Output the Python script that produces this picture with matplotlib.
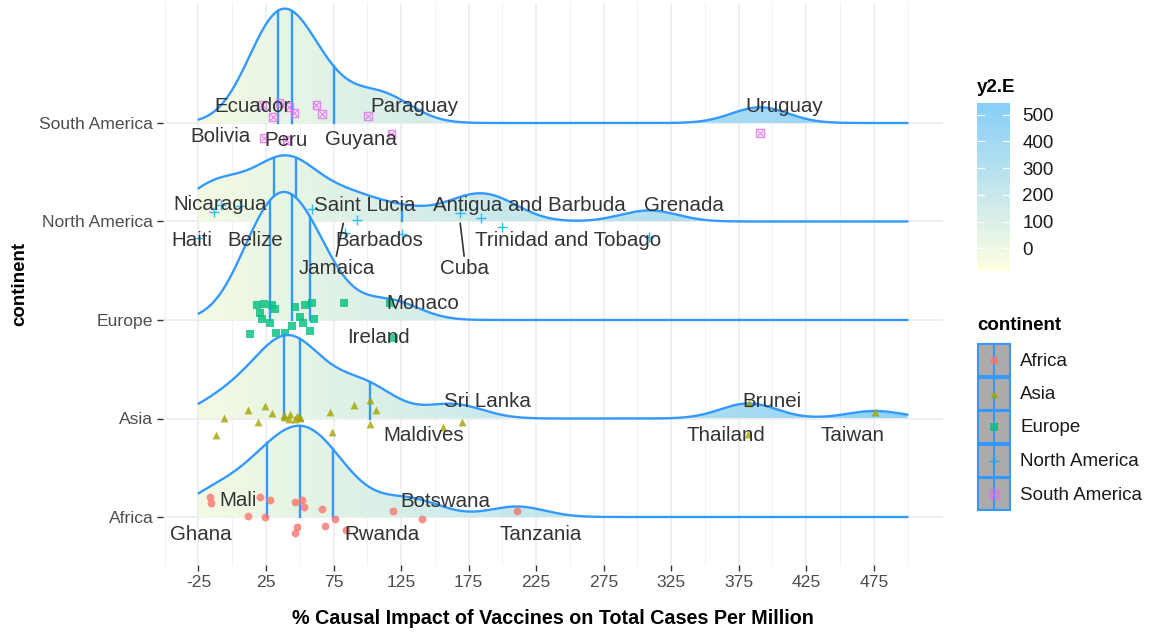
import numpy as np
import matplotlib
matplotlib.use("Agg")
import matplotlib.pyplot as plt
from matplotlib.colors import LinearSegmentedColormap, Normalize
from matplotlib.patches import Polygon, Rectangle

plt.rcParams['font.family'] = ['Liberation Sans', 'DejaVu Sans']
plt.rcParams['axes.unicode_minus'] = False

# % causal impact per country, grouped by continent, with vertical jitter offsets
continents = ['Africa', 'Asia', 'Europe', 'North America', 'South America']

africa_vals = [-16.3, -15.9, 20.3, 28.3, 11.5, 24.6, 46.7, 51.7, 52.9, 66.5, 76.3, 48.0,
               46.7, 68.4, 84.5, 119.0, 140.5, 210.7]
africa_jit = [0.20, 0.14, 0.20, 0.17, 0.01, 0.00, 0.155, 0.17, 0.10, 0.08, -0.02, -0.10,
              -0.16, -0.09, -0.13, 0.06, -0.02, 0.06]

asia_vals = [-6.3, 11.5, 24.6, 29.5, 38.6, 41.8, 46.7, 50.4, 18.9, -11.7, 72.6, 73.9, 89.9,
             101.7, 106.7, 102.2, 156.4, 170.0, 382.0, 382.5, 475.7, 38.6, 43.0, 48.0, 50.4]
asia_jit = [0.01, 0.09, 0.13, 0.06, 0.04, 0.00, -0.01, 0.02, -0.04, -0.17, 0.07, -0.14, 0.14,
            0.19, 0.09, -0.06, -0.09, -0.04, -0.16, 0.16, 0.07, 0.02, 0.05, 0.03, 0.01]

europe_vals = [18.4, 23.3, 29.5, 32.0, 20.3, 22.1, 27.7, 46.7, 54.1, 59.1, 49.9, 52.4, 60.3,
               57.8, 44.3, 39.3, 32.7, 12.9, 82.5, 119.5, 117.0]
europe_jit = [0.15, 0.16, 0.15, 0.11, 0.07, 0.01, -0.03, 0.13, 0.15, 0.17, 0.03, -0.03, 0.01,
              -0.11, -0.06, -0.13, -0.13, -0.14, 0.17, -0.18, 0.17]

na_vals = [-13.7, -24.8, 59.1, 92.4, 83.7, 125.7, 168.8, 184.3, 199.6, 308.6,
           -8.0, 6.0, 30.7, 32.5, 38.0, 43.5, 47.3]
na_jit = [0.10, -0.17, 0.13, 0.02, -0.12, -0.13, 0.09, 0.04, -0.06, -0.16,
          0.17, 0.16, 0.12, -0.02, 0.15, -0.10, 0.06]

sa_vals = [22.1, 30.3, 34.9, 46.0, 62.3, 66.5, 100.5, 23.3, 40.1, 117.8, 390.7, 42.0]
sa_jit = [0.18, 0.06, 0.20, 0.10, 0.18, 0.09, 0.07, -0.15, -0.17, -0.11, -0.10, 0.16]

values = {'Africa': africa_vals, 'Asia': asia_vals, 'Europe': europe_vals,
          'North America': na_vals, 'South America': sa_vals}
jitter = {'Africa': africa_jit, 'Asia': asia_jit, 'Europe': europe_jit,
          'North America': na_jit, 'South America': sa_jit}

# repelled country labels: (name, continent, x, y offset)
labels = [
    ('Ecuador', 'South America', 14.9, 0.17), ('Paraguay', 'South America', 134.8, 0.17),
    ('Bolivia', 'South America', -8.7, -0.14), ('Peru', 'South America', 40.1, -0.18),
    ('Guyana', 'South America', 95.6, -0.17), ('Uruguay', 'South America', 408.4, 0.17),
    ('Nicaragua', 'North America', -8.7, 0.17), ('Saint Lucia', 'North America', 97.8, 0.16),
    ('Antigua and Barbuda', 'North America', 219.8, 0.16), ('Grenada', 'North America', 334.5, 0.16),
    ('Haiti', 'North America', -30.2, -0.19), ('Belize', 'North America', 17.2, -0.19),
    ('Barbados', 'North America', 108.9, -0.19), ('Trinidad and Tobago', 'North America', 248.7, -0.19),
    ('Jamaica', 'North America', 77.8, -0.48), ('Cuba', 'North America', 171.7, -0.48),
    ('Monaco', 'Europe', 141.4, 0.17), ('Ireland', 'Europe', 108.1, -0.18),
    ('Sri Lanka', 'Asia', 188.8, 0.17), ('Maldives', 'Asia', 141.4, -0.17),
    ('Brunei', 'Asia', 399.6, 0.17), ('Thailand', 'Asia', 365.5, -0.17),
    ('Taiwan', 'Asia', 459.5, -0.17),
    ('Mali', 'Africa', 4.6, 0.17), ('Botswana', 'Africa', 157.7, 0.16),
    ('Ghana', 'Africa', -23.5, -0.18), ('Rwanda', 'Africa', 111.1, -0.18),
    ('Tanzania', 'Africa', 228.7, -0.18),
]
# label -> point connector segments (x_text, dy_text, x_point, dy_point)
segments = [('North America', 77.1, -0.35, 82.2, -0.02),
            ('North America', 171.7, -0.35, 168.8, -0.02)]

point_colors = {'Africa': '#F8766D', 'Asia': '#A3A500', 'Europe': '#00BF7D',
                'North America': '#00B0F6', 'South America': '#E76BF3'}
point_markers = {'Africa': 'o', 'Asia': '^', 'Europe': 's', 'North America': '+',
                 'South America': 's'}

line_col = '#3399FF'
cmap = LinearSegmentedColormap.from_list('y2E', ['#FFFFE0', '#87CEFA'])
fill_lo, fill_hi = -85, 543
norm = Normalize(fill_lo, fill_hi)
ridge_scale = 1.3
ypos = {c: i + 1 for i, c in enumerate(continents)}


def nrd0(x):
    x = np.asarray(x, float)
    iqr = np.subtract(*np.percentile(x, [75, 25]))
    return 0.9 * min(x.std(ddof=1), iqr / 1.34) * len(x) ** -0.2


def draw_point(axis, x, y, c, z):
    col = point_colors[c]
    if c == 'South America':
        axis.scatter(x, y, marker='s', s=30, facecolors='none', edgecolors=col,
                     linewidths=1.0, alpha=0.8, zorder=z)
        axis.scatter(x, y, marker='x', s=18, color=col, linewidths=0.9, alpha=0.8, zorder=z)
    elif c == 'North America':
        axis.scatter(x, y, marker='+', s=60, color=col, linewidths=1.0, alpha=0.8, zorder=z)
    else:
        axis.scatter(x, y, marker=point_markers[c], s=32, color=col, linewidths=0,
                     alpha=0.8, zorder=z)


bw = np.mean([nrd0(values[c]) for c in continents])
grid = np.linspace(-25, 500, 512)
dens = {}
for c in continents:
    v = np.asarray(values[c])
    d = np.exp(-0.5 * ((grid[:, None] - v[None, :]) / bw) ** 2).sum(axis=1)
    dens[c] = d / (len(v) * bw * np.sqrt(2 * np.pi))
dmax = max(d.max() for d in dens.values())

fig = plt.figure(figsize=(11.54, 6.35), dpi=100)
ax = fig.add_axes([163 / 1154, 1 - 565 / 635, 780 / 1154, 562 / 635])

for k, c in enumerate(continents[::-1]):
    z = 2 + k
    base = ypos[c]
    top = base + dens[c] / dmax * ridge_scale
    verts = np.column_stack([np.r_[grid, grid[::-1]],
                             np.r_[top, np.full_like(grid, base)]])
    poly = Polygon(verts, closed=True, facecolor='none', edgecolor='none')
    ax.add_patch(poly)
    im = ax.imshow(grid[None, :], extent=[grid[0], grid[-1], base, top.max()],
                   origin='lower', aspect='auto', cmap=cmap, norm=norm, zorder=z)
    im.set_clip_path(poly)
    ax.plot(grid, top, color=line_col, lw=1.7, zorder=z + 0.2, solid_capstyle='round')
    for q in np.percentile(values[c], [25, 50, 75]):
        ax.plot([q, q], [base, np.interp(q, grid, top)], color=line_col, lw=1.7,
                zorder=z + 0.1)
    draw_point(ax, values[c], base + np.asarray(jitter[c]), c, z + 0.3)

for name, c, x, dy in labels:
    ax.text(x, ypos[c] + dy, name, ha='center', va='center', fontsize=14.8,
            color='#333333', zorder=10)
for c, x0, dy0, x1, dy1 in segments:
    ax.plot([x0, x1], [ypos[c] + dy0, ypos[c] + dy1], color='#333333', lw=1.2, zorder=10)

ax.set_xlim(-51.25, 526.25)
ax.set_ylim(1 - 48 / 98.5, 5 + 120 / 98.5)
ax.set_xticks(np.arange(-25, 476, 50))
ax.set_xticks(np.arange(-50, 501, 50), minor=True)
ax.set_yticks([ypos[c] for c in continents])
ax.set_yticklabels(continents)
ax.grid(which='major', color='#EBEBEB', lw=1.1)
ax.grid(which='minor', axis='x', color='#F0F0F0', lw=0.6)
ax.set_axisbelow(True)
for s in ax.spines.values():
    s.set_visible(False)
ax.tick_params(which='major', length=4, width=1, color='#333333', labelcolor='#4D4D4D',
               labelsize=12.6, pad=3)
ax.tick_params(which='minor', length=0)
ax.set_xlabel('% Causal Impact of Vaccines on Total Cases Per Million',
              fontsize=14.2, fontweight='bold', labelpad=14)
ax.set_ylabel('continent', fontsize=13.5, fontweight='bold', labelpad=8)

# fill colourbar
cax = fig.add_axes([977 / 1154, 1 - 271 / 635, 33 / 1154, 168 / 635])
cax.imshow(np.linspace(fill_lo, fill_hi, 300)[:, None], extent=[0, 1, fill_lo, fill_hi],
           origin='lower', aspect='auto', cmap=cmap, norm=norm)
cbar_ticks = [0, 100, 200, 300, 400, 500]
for t in cbar_ticks:
    cax.plot([0, 0.2], [t, t], color='white', lw=0.8)
    cax.plot([0.8, 1], [t, t], color='white', lw=0.8)
cax.set_xlim(0, 1)
cax.set_ylim(fill_lo, fill_hi)
cax.set_xticks([])
cax.set_yticks(cbar_ticks)
cax.yaxis.tick_right()
cax.tick_params(length=0, pad=9, labelsize=13.5, labelcolor='#1A1A1A')
for s in cax.spines.values():
    s.set_visible(False)
fig.text(977 / 1154, 1 - 88 / 635, 'y2.E', fontsize=13.5, fontweight='bold', va='center')

# continent legend
lax = fig.add_axes([0, 0, 1, 1], zorder=20)
lax.set_xlim(0, 1154)
lax.set_ylim(635, 0)
lax.axis('off')
lax.text(977, 325, 'continent', fontsize=13.5, fontweight='bold', va='center')
for i, c in enumerate(continents):
    cy = 360 + i * 33.5
    lax.add_patch(Rectangle((978, cy - 16), 32, 32, facecolor='#ABABAB',
                            edgecolor=line_col, lw=1.5, zorder=1))
    lax.plot([994, 994], [cy - 16, cy + 16], color=line_col, lw=1.5, zorder=2)
    draw_point(lax, [994], [cy], c, 3)
    lax.text(1020, cy + 1, c, fontsize=13.5, va='center', color='#1A1A1A')

fig.savefig('out.png', dpi=100)
